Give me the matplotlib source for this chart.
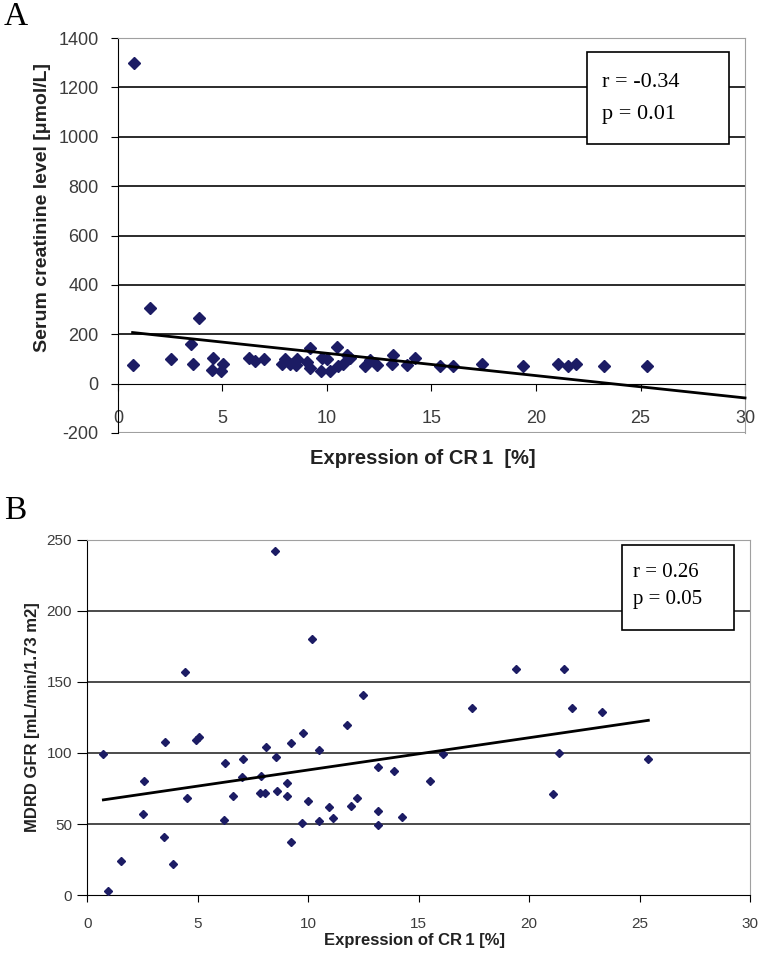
import matplotlib
matplotlib.use("Agg")
import matplotlib.pyplot as plt
from matplotlib.patches import Rectangle

plt.rcParams['font.family'] = ['Liberation Sans', 'DejaVu Sans']
plt.rcParams['axes.unicode_minus'] = False

# panel A: CR1 expression vs serum creatinine
cr1_a = [0.77, 0.73, 1.53, 2.54, 3.48, 3.57, 3.88, 4.53, 4.51, 5.04, 4.93, 6.28,
         6.55, 7.0, 7.83, 7.99, 8.23, 8.55, 8.52, 9.03, 9.19, 9.19, 9.74, 9.71,
         9.98, 10.14, 10.5, 10.54, 10.78, 10.94, 11.1, 11.82, 12.06, 12.38, 13.14,
         13.09, 13.84, 14.21, 15.41, 16.04, 17.43, 19.36, 21.07, 21.55, 21.91,
         23.27, 25.3]
creat_a = [1300, 77, 308, 101, 159, 78, 264, 104, 54, 80, 52, 104,
           90, 99, 81, 101, 81, 101, 77, 88, 145, 64, 104, 53,
           101, 52, 150, 72, 81, 115, 104, 70, 95, 77, 115,
           78, 77, 105, 70, 70, 80, 70, 80, 70, 80,
           70, 70]
trend_a_x = [0.7, 30]
trend_a_y = [207, -58]

# panel B: CR1 expression vs MDRD GFR
cr1_b = [0.72, 0.94, 1.5, 2.53, 2.57, 3.46, 3.51, 3.89, 4.43, 4.52, 4.9, 5.06,
         6.18, 6.24, 6.57, 6.98, 7.03, 7.81, 7.86, 8.04, 8.07, 8.5, 8.54, 8.6,
         9.02, 9.05, 9.2, 9.22, 9.73, 9.74, 10.0, 10.15, 10.5, 10.5, 10.92, 11.1,
         11.74, 11.92, 12.22, 12.49, 13.14, 13.17, 13.14, 13.88, 14.26, 15.51,
         16.09, 17.43, 19.4, 21.1, 21.37, 21.6, 21.96, 23.3, 25.4]
gfr_b = [99, 3, 24, 57, 80, 41, 108, 22, 157, 68, 109, 111,
         53, 93, 70, 83, 96, 72, 84, 72, 104, 242, 97, 73,
         70, 79, 37, 107, 51, 114, 66, 180, 102, 52, 62, 54,
         120, 63, 68, 141, 90, 59, 49, 87, 55, 80,
         99, 132, 159, 71, 100, 159, 132, 129, 96]
trend_b_x = [0.72, 25.4]
trend_b_y = [67, 123]

mark = '#1c1c64'
tick_col = '#3c3c3c'
border = '#a0a0a0'

fig = plt.figure(figsize=(7.66, 9.55), dpi=100)

# ---- panel A
ax = fig.add_axes([0.154, 0.5466, 0.8186, 0.4136])
ax.set_xlim(0, 30)
ax.set_ylim(-200, 1400)
for g in range(200, 1400, 200):
    ax.axhline(g, color='#1a1a1a', lw=1.3, zorder=1)
ax.plot(cr1_a, creat_a, ls='none', marker='D', ms=6.5, color=mark, zorder=3)
ax.plot(trend_a_x, trend_a_y, color='black', lw=2, zorder=4, clip_on=False)

ax.spines['bottom'].set_position(('data', 0))
ax.spines['bottom'].set_color('black')
ax.spines['left'].set_color('black')
ax.spines['top'].set_color(border)
ax.spines['right'].set_color(border)
ax.axhline(-200, color=border, lw=1.5, zorder=1)
ax.set_xticks(range(0, 31, 5))
ax.set_yticks(range(-200, 1401, 200))
ax.tick_params(axis='x', direction='out', length=5, pad=14, labelsize=13,
               labelcolor=tick_col)
ax.tick_params(axis='y', direction='out', length=5, pad=9, labelsize=13,
               labelcolor=tick_col)

ax.add_patch(Rectangle((0.748, 0.732), 0.226, 0.233, transform=ax.transAxes,
                       facecolor='white', edgecolor='black', lw=1.2, zorder=5))
ax.text(0.772, 0.887, 'r = -0.34', transform=ax.transAxes, fontsize=16,
        family='Liberation Serif', va='center', zorder=6)
ax.text(0.772, 0.806, 'p = 0.01', transform=ax.transAxes, fontsize=16,
        family='Liberation Serif', va='center', zorder=6)

fig.text(0.056, 1 - 208 / 955, 'Serum creatinine level [\u03bcmol/L]', rotation=90,
         ha='center', va='center', fontsize=14, fontweight='bold', color='#222222')
fig.text(423 / 766, 1 - 458 / 955, 'Expression of CR\u20091  [%]', ha='center',
         va='center', fontsize=14.5, fontweight='bold', color='#222222')
fig.text(0.005, 1 - 17 / 955, 'A', family='Liberation Serif', fontsize=24,
         va='center', ha='left')

# ---- panel B
bx = fig.add_axes([0.1142, 0.0628, 0.8648, 0.3718])
bx.set_xlim(0, 30)
bx.set_ylim(0, 250)
for g in range(50, 250, 50):
    bx.axhline(g, color='#1a1a1a', lw=1.1, zorder=1)
bx.plot(cr1_b, gfr_b, ls='none', marker='D', ms=4.5, color=mark, zorder=3)
bx.plot(trend_b_x, trend_b_y, color='black', lw=2, zorder=4)

bx.spines['bottom'].set_color('black')
bx.spines['left'].set_color('black')
bx.spines['top'].set_color(border)
bx.spines['right'].set_color(border)
bx.set_xticks(range(0, 31, 5))
bx.set_yticks(range(0, 251, 50))
bx.tick_params(axis='x', direction='out', length=5, pad=11, labelsize=11,
               labelcolor=tick_col)
bx.tick_params(axis='y', direction='out', length=7, pad=4, labelsize=11,
               labelcolor=tick_col)

bx.add_patch(Rectangle((0.807, 0.746), 0.169, 0.24, transform=bx.transAxes,
                       facecolor='white', edgecolor='black', lw=1.2, zorder=5))
bx.text(0.824, 0.907, 'r = 0.26', transform=bx.transAxes, fontsize=15,
        family='Liberation Serif', va='center', zorder=6)
bx.text(0.824, 0.831, 'p = 0.05', transform=bx.transAxes, fontsize=15,
        family='Liberation Serif', va='center', zorder=6)

fig.text(33 / 766, 1 - 717 / 955, 'MDRD GFR [mL/min/1.73 m2]', rotation=90,
         ha='center', va='center', fontsize=12, fontweight='bold', color='#222222')
fig.text(415 / 766, 1 - 940 / 955, 'Expression of CR\u20091 [%]', ha='center',
         va='center', fontsize=12, fontweight='bold', color='#222222')
fig.text(0.005, 1 - 511 / 955, 'B', family='Liberation Serif', fontsize=24,
         va='center', ha='left')

fig.savefig('out.png', dpi=100)
plt.close(fig)
